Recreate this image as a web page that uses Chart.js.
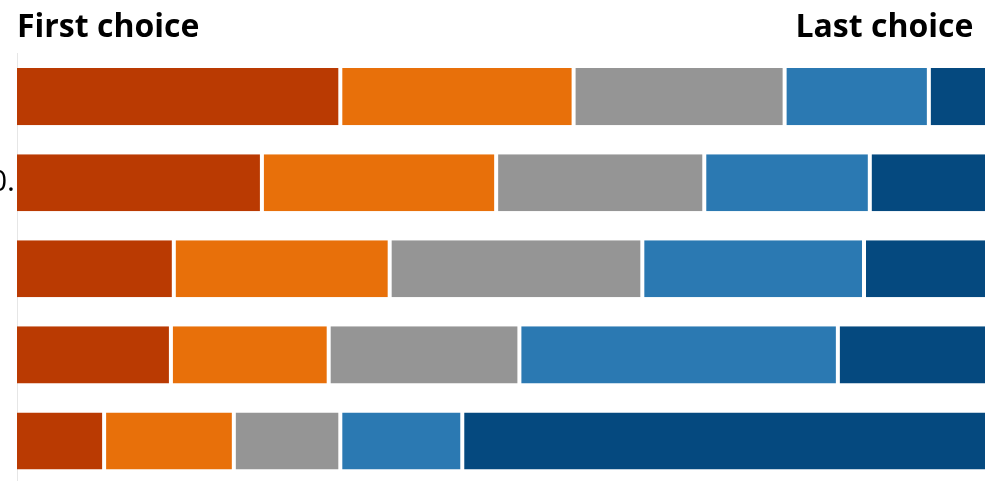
<!DOCTYPE html>
<html>
<head>
<meta charset="utf-8">
<script src="https://cdn.jsdelivr.net/npm/chart.js@4.4.1/dist/chart.umd.min.js"></script>
<style>
  html, body { margin: 0; padding: 0; background: #ffffff; overflow: hidden; }
  #wrap { position: relative; width: 998px; height: 484px; }
</style>
</head>
<body>
<div id="wrap"><canvas id="c"></canvas></div>
<script>
// Categories (rows); only the second row's label end is visible at the left edge
const categories = ['', '0.', '', '', ''];
// Axis end labels
const tickLabels = ['First choice', 'Last choice'];
// Ranking series (percent of respondents), from first to last choice
const rank1 = [33.4, 25.3, 16.2, 15.9, 9.0];
const rank2 = [24.1, 24.2, 22.3, 16.3, 13.4];
const rank3 = [21.8, 21.5, 26.1, 19.7, 11.0];
const rank4 = [14.9, 17.1, 22.9, 32.9, 12.6];
const rank5 = [5.8, 11.9, 12.5, 15.2, 54.0];

const seriesList = [rank1, rank2, rank3, rank4, rank5];
const colors = ['#BA3A02', '#E8700A', '#959595', '#2B79B2', '#05497F'];

const datasets = seriesList.map((vals, i) => ({
  label: 'Choice ' + (i + 1),
  data: vals,
  backgroundColor: colors[i],
  borderColor: '#ffffff',
  borderWidth: { left: i === 0 ? 0 : 2, right: i === seriesList.length - 1 ? 0 : 2, top: 0, bottom: 0 },
  borderSkipped: false,
  categoryPercentage: 0.663,
  barPercentage: 1.0
}));

new Chart(document.getElementById('c'), {
  type: 'bar',
  data: { labels: categories, datasets: datasets },
  options: {
    indexAxis: 'y',
    responsive: true,
    maintainAspectRatio: false,
    animation: false,
    layout: { padding: { left: 0, right: 13, top: 2, bottom: 0 } },
    plugins: { legend: { display: false }, tooltip: { enabled: false } },
    scales: {
      x: {
        position: 'top',
        stacked: true,
        min: 0,
        max: 100,
        grid: { display: false, drawTicks: false },
        border: { display: false },
        afterBuildTicks: (axis) => { axis.ticks = [{ value: 0 }, { value: 98.8 }]; },
        ticks: {
          align: 'inner',
          maxRotation: 0,
          autoSkip: false,
          padding: 9.8,
          color: '#000000',
          font: { family: 'Open Sans', weight: 'bold', size: 32, lineHeight: 1.0 },
          callback: (v, idx) => tickLabels[idx]
        }
      },
      y: {
        stacked: true,
        grid: { display: false, drawTicks: false },
        border: { display: true, color: '#e6e6e6', width: 1 },
        afterFit: (axis) => { axis.width = 17; axis.paddingTop = 0; axis.paddingBottom = 0; },
        ticks: {
          padding: 2,
          color: '#000000',
          font: { family: 'Open Sans', size: 30 }
        }
      }
    }
  }
});
</script>
</body>
</html>
